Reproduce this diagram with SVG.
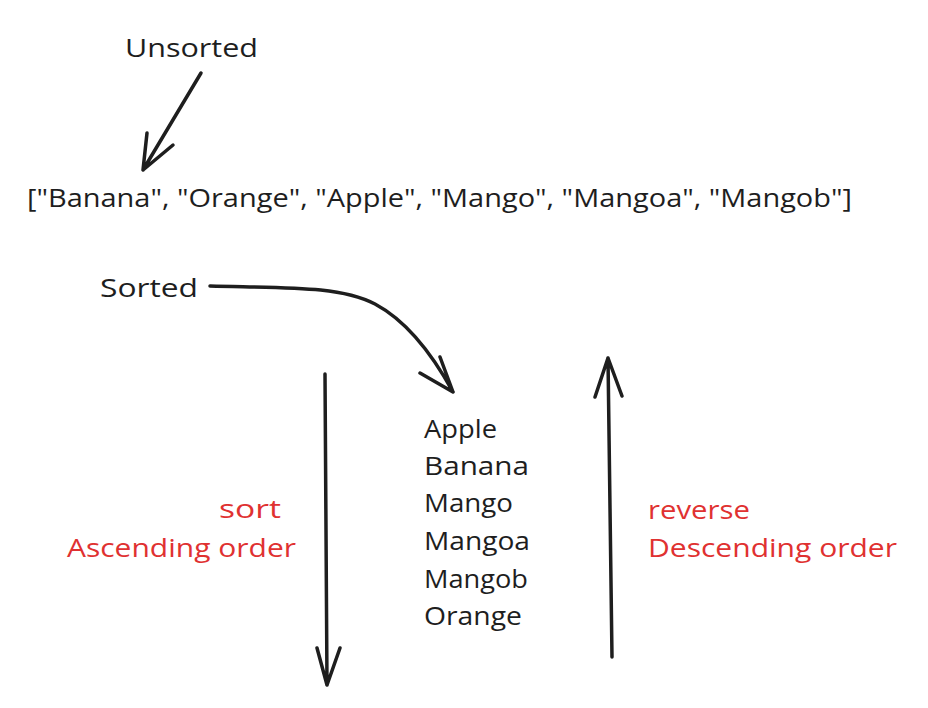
<svg xmlns="http://www.w3.org/2000/svg" width="928" height="708" viewBox="0 0 928 708">
<style>
text{font-family:"Open Sans","Liberation Sans",sans-serif;font-size:26px;fill:#1e1e1e}
.red{fill:#e03131}
.ln{fill:none;stroke:#1e1e1e;stroke-width:3.5;stroke-linecap:round;stroke-linejoin:round}
</style>
<rect width="928" height="708" fill="#ffffff"/>
<g id="unsorted"><text x="125" y="57" textLength="133" lengthAdjust="spacingAndGlyphs">Unsorted</text></g>
<g id="array"><text x="27" y="207" textLength="825" lengthAdjust="spacingAndGlyphs">["Banana", "Orange", "Apple", "Mango", "Mangoa", "Mangob"]</text></g>
<g id="sorted"><text x="100" y="297" textLength="98" lengthAdjust="spacingAndGlyphs">Sorted</text></g>
<g id="list">
<text x="424" y="438" textLength="73" lengthAdjust="spacingAndGlyphs">Apple</text>
<text x="424" y="475" textLength="105" lengthAdjust="spacingAndGlyphs">Banana</text>
<text x="424" y="512" textLength="89" lengthAdjust="spacingAndGlyphs">Mango</text>
<text x="424" y="550" textLength="106" lengthAdjust="spacingAndGlyphs">Mangoa</text>
<text x="424" y="588" textLength="104" lengthAdjust="spacingAndGlyphs">Mangob</text>
<text x="424" y="625" textLength="98" lengthAdjust="spacingAndGlyphs">Orange</text>
</g>
<g id="sort-label">
<text class="red" x="219" y="518" textLength="62" lengthAdjust="spacingAndGlyphs">sort</text>
<text class="red" x="67" y="557" textLength="229" lengthAdjust="spacingAndGlyphs">Ascending order</text>
</g>
<g id="reverse-label">
<text class="red" x="648" y="519" textLength="102" lengthAdjust="spacingAndGlyphs">reverse</text>
<text class="red" x="648" y="557" textLength="249" lengthAdjust="spacingAndGlyphs">Descending order</text>
</g>
<g id="connectors">
<path class="ln" d="M201 73 L143 170 M143 170 L147 133 M143 170 L173 145"/>
<path class="ln" d="M210 286 C290 288 340 286 375 304 C405 320 430 350 453 392 M453 392 L420 373 M453 392 L440 357"/>
<path class="ln" d="M325 374 L327 685 M327 685 L317 648 M327 685 L340 648"/>
<path class="ln" d="M612 657 L608 358 M608 358 L595 397 M608 358 L622 396"/>
</g>
</svg>
